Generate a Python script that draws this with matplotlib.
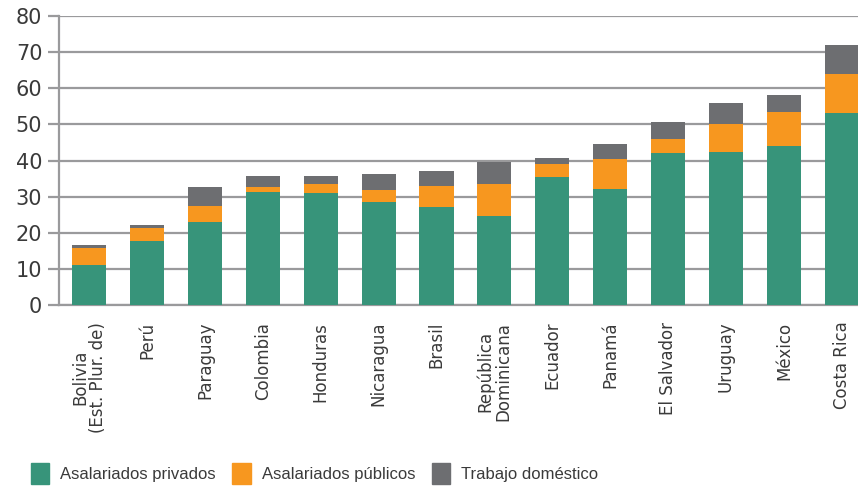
import matplotlib.pyplot as plt
from matplotlib.patches import Patch
import numpy as np

paises = ["Bolivia\n(Est. Plur. de)", "Perú", "Paraguay", "Colombia", "Honduras",
          "Nicaragua", "Brasil", "República\nDominicana", "Ecuador", "Panamá",
          "El Salvador", "Uruguay", "México", "Costa Rica"]
privados = [11.1, 17.8, 23.1, 31.3, 31.0, 28.6, 27.1, 24.6, 35.4, 32.1, 42.1, 42.3, 44.0, 53.1]
publicos = [4.7, 3.5, 4.3, 1.4, 2.5, 3.2, 5.8, 8.9, 3.6, 8.3, 3.8, 7.8, 9.4, 10.8]
domestico = [0.8, 0.8, 5.3, 3.0, 2.2, 4.5, 4.2, 6.1, 1.7, 4.2, 4.7, 5.8, 4.7, 8.1]
series = ["Asalariados privados", "Asalariados públicos", "Trabajo doméstico"]
colores = ["#37947a", "#f7971f", "#6d6e71"]

fig = plt.figure(figsize=(8.58, 4.86), dpi=100)
ax = fig.add_axes([0.0688, 0.3724, 0.9312, 0.5946])

x = np.arange(len(paises))
w = 0.59
base = np.zeros(len(paises))
for vals, col in zip([privados, publicos, domestico], colores):
    ax.bar(x, vals, w, bottom=base, color=col, zorder=3)
    base = base + np.array(vals)

ax.set_xlim(-0.52, 13.28)
ax.set_ylim(0, 80)
ax.set_yticks(range(0, 81, 10))
ax.yaxis.grid(True, color="#9a9a9c", linewidth=1.6, zorder=0)
ax.tick_params(axis="y", length=8, width=1.6, color="#9a9a9c", pad=4, labelsize=15, labelcolor="#3a3a3a")
ax.tick_params(axis="x", length=0, pad=12, labelsize=12, labelcolor="#3a3a3a")
ax.set_xticks(x)
ax.set_xticklabels(paises, rotation=90, va="top", ha="center", linespacing=1.0)
for s in ["top", "right"]:
    ax.spines[s].set_visible(False)
for s in ["left", "bottom"]:
    ax.spines[s].set_color("#9a9a9c")
    ax.spines[s].set_linewidth(1.6)

handles = [Patch(color=c, label=l) for c, l in zip(colores, series)]
fig.legend(handles=handles, loc="lower left", bbox_to_anchor=(0.036, 0.004), ncol=3,
           frameon=False, handlelength=1.1, handleheight=1.6,
           handletextpad=0.65, columnspacing=1.0, borderaxespad=0, borderpad=0,
           prop={"family": ["Liberation Sans", "DejaVu Sans"], "size": 12})
for t in fig.legends[0].get_texts():
    t.set_color("#3a3a3a")

fig.savefig("out.png", dpi=100)
